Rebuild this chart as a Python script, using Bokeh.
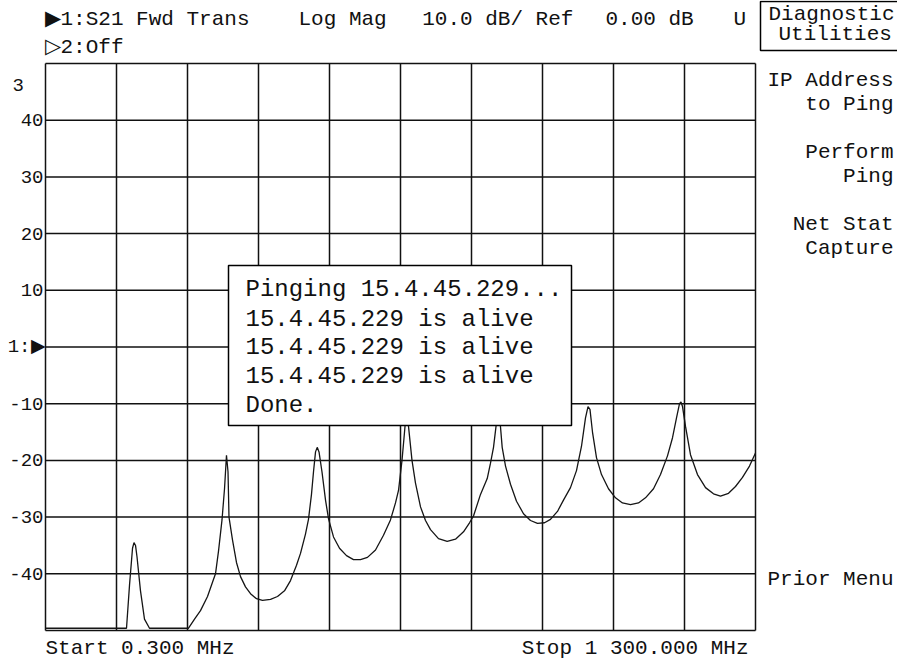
from bokeh.plotting import figure
from bokeh.models import Label, BoxAnnotation, Range1d
from bokeh.core.properties import value
from bokeh.embed import file_html
from bokeh.resources import INLINE

# ---------------- data ----------------
start_mhz = 0.3
stop_mhz = 1300.0
ref_top_db = 50
ref_bottom_db = -50

freq_mhz = [
    0.3, 148.6, 154.1, 159.6, 162.3, 165.1, 167.8, 174.2, 181.5, 190.7,
    262.1, 273.1, 284.0, 296.9, 306.0, 311.5, 317.0, 323.4, 328.0, 331.6,
    334.4, 336.2, 342.6, 349.9, 357.3, 366.4, 375.6, 386.5, 397.5, 412.2,
    425.0, 437.8, 448.8, 459.8, 467.1, 476.2, 481.7, 487.2, 490.9, 494.6,
    497.7, 501.0, 506.4, 512.9, 518.4, 527.5, 538.5, 551.3, 564.1, 576.9,
    589.7, 604.4, 619.0, 631.8, 641.0, 646.5, 652.9, 656.6, 659.3, 662.1,
    664.8, 671.2, 677.6, 686.8, 695.9, 705.1, 719.7, 735.6, 750.8, 765.5,
    776.5, 783.8, 796.6, 808.9, 814.9, 820.4, 825.0, 828.6, 831.4, 836.3,
    842.4, 851.5, 862.5, 875.3, 888.1, 900.9, 913.8, 924.7, 937.5, 948.5,
    961.3, 972.3, 981.5, 988.8, 993.4, 997.0, 1001.6, 1008.9, 1018.1, 1030.9,
    1043.7, 1056.5, 1071.2, 1085.8, 1098.6, 1113.3, 1126.1, 1138.9, 1148.1, 1155.4,
    1160.9, 1163.6, 1166.4, 1171.9, 1181.0, 1193.8, 1208.5, 1223.1, 1235.9, 1250.6,
    1263.4, 1276.2, 1289.0, 1300.0,
]
s21_db = [
    -49.6, -49.6, -42.0, -35.5, -34.5, -35.0, -37.0, -43.0, -48.0, -49.6,
    -49.6, -48.0, -46.5, -44.0, -41.5, -40.0, -36.0, -30.5, -25.0, -19.1,
    -22.0, -30.0, -34.0, -38.0, -40.5, -42.3, -43.5, -44.4, -44.7, -44.5,
    -44.0, -43.0, -41.2, -38.5, -36.4, -33.0, -30.4, -26.0, -22.0, -18.5,
    -17.7, -18.5, -22.0, -27.0, -30.3, -33.5, -35.5, -36.8, -37.5, -37.5,
    -37.1, -35.8, -33.2, -30.5, -27.5, -25.3, -20.0, -16.0, -13.0, -12.5,
    -14.0, -20.0, -24.0, -28.2, -30.6, -32.2, -33.8, -34.3, -33.9, -32.6,
    -31.0, -29.8, -26.0, -23.2, -20.5, -17.7, -14.0, -11.5, -12.0, -17.7,
    -21.0, -24.2, -27.2, -29.4, -30.6, -31.1, -31.0, -30.4, -29.0, -27.0,
    -24.8, -21.8, -17.5, -12.5, -10.5, -11.0, -15.0, -19.5, -22.5, -25.0,
    -26.6, -27.5, -27.8, -27.5, -26.6, -25.0, -22.5, -19.2, -16.0, -12.5,
    -10.0, -9.7, -10.5, -14.0, -19.0, -22.5, -24.8, -25.9, -26.3, -25.8,
    -24.6, -23.0, -21.0, -18.7,
]

y_tick_values = [40, 30, 20, 10, -10, -20, -30, -40]
y_tick_labels = ["40", "30", "20", "10", "-10", "-20", "-30", "-40"]
y_grid_values = [-50, -40, -30, -20, -10, 0, 10, 20, 30, 40, 50]
x_grid_values = [start_mhz + k * (stop_mhz - start_mhz) / 10 for k in range(11)]

header_1 = ["\u25b61:S21 Fwd Trans", "Log Mag", "10.0 dB/ Ref", "0.00 dB", "U"]
header_2 = "\u25b72:Off"
menu_title = ["Diagnostic", "Utilities"]
menu_items = ["IP Address", "to Ping", "Perform", "Ping", "Net Stat", "Capture", "Prior Menu"]
ping_lines = [
    "Pinging 15.4.45.229...",
    "15.4.45.229 is alive",
    "15.4.45.229 is alive",
    "15.4.45.229 is alive",
    "Done.",
]
start_label = "Start 0.300 MHz"
stop_label = "Stop 1 300.000 MHz"
marker_label = "1:\u25b6"
clipped_unit = "3"

# ---------------- layout (pixel geometry of the screen) ----------------
W, H = 897, 660
L, R, T, B = 45, 755, 63, 630
FONT = "Liberation Mono"
INK = "#111111"


def dx(px):
    return start_mhz + (px - L) / (R - L) * (stop_mhz - start_mhz)


def dy(py):
    return ref_top_db - (py - T) / (B - T) * (ref_top_db - ref_bottom_db)


p = figure(
    width=W, height=H, output_backend="svg", toolbar_location=None,
    x_range=Range1d(dx(0), dx(W)), y_range=Range1d(dy(H), dy(0)),
    min_border=0,
)
p.background_fill_color = "white"
p.border_fill_color = "white"
p.outline_line_color = None
p.axis.visible = False
p.grid.visible = False

# graticule
n_x = len(x_grid_values)
n_y = len(y_grid_values)
p.segment(x0=x_grid_values, x1=x_grid_values, y0=[ref_bottom_db] * n_x, y1=[ref_top_db] * n_x,
          line_color=INK, line_width=1.5)
p.segment(x0=[start_mhz] * n_y, x1=[stop_mhz] * n_y, y0=y_grid_values, y1=y_grid_values,
          line_color=INK, line_width=1.5)

# trace
p.line(freq_mhz, s21_db, line_color="#151515", line_width=1.3)

# y scale labels
p.text(x=[dx(43)] * len(y_tick_values), y=y_tick_values, text=y_tick_labels,
       text_font=value(FONT), text_font_size="19px", text_color=INK,
       text_align="right", text_baseline="middle")


def lab(text, px, py, size="21px", align="left"):
    # py is the vertical centre of the text line, in screen pixels
    p.add_layout(Label(
        x=dx(px), y=dy(py), text=text, text_font=FONT, text_font_size=size,
        text_color=INK, text_align=align, text_baseline="middle",
    ))


# header
for txt, px in zip(header_1, [44, 298, 421.7, 605, 733]):
    lab(txt, px, 19)
lab(header_2, 44, 47)

# menu title box
p.add_layout(BoxAnnotation(
    left=dx(760), right=dx(905), top=dy(1), bottom=dy(50),
    fill_color="white", fill_alpha=1.0, line_color="black", line_alpha=1.0, line_width=1.5,
))
lab(menu_title[0], 768, 14)
lab(menu_title[1], 778, 34)

# soft keys
for txt, py in zip(menu_items, [80, 104, 152, 176, 224, 248, 579]):
    lab(txt, 893, py, align="right")

# left marks
lab(clipped_unit, 12, 84, size="19px")
lab(marker_label, 45, T + (B - T) * ref_top_db / (ref_top_db - ref_bottom_db), size="19px",
    align="right")

# footer
lab(start_label, 45, 648)
lab(stop_label, 748, 648, align="right")

# ping dialog
p.add_layout(BoxAnnotation(
    left=dx(228), right=dx(571), top=dy(265), bottom=dy(425),
    fill_color="white", fill_alpha=1.0, line_color="black", line_alpha=1.0, line_width=1.5,
))
for txt, py in zip(ping_lines, [289.3, 318.5, 347, 375.5, 404.5]):
    lab(txt, 245, py, size="24px")

open("out.html", "w").write(file_html(p, INLINE))
